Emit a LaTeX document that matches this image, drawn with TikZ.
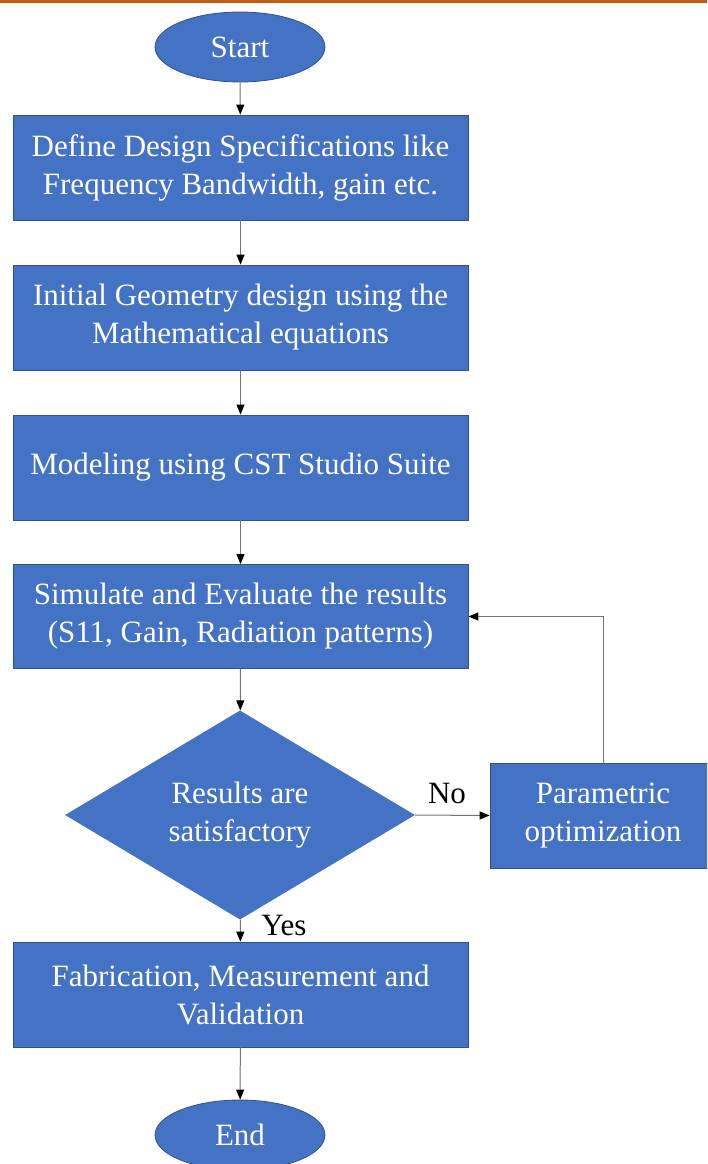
\documentclass[tikz,border=0pt]{standalone}
\usepackage{fontspec}
\setmainfont{LiberationSerif}[Extension=.ttf, UprightFont=*-Regular, BoldFont=*-Bold, ItalicFont=*-Italic, BoldItalicFont=*-BoldItalic]
\usetikzlibrary{shapes.geometric,arrows.meta}
\definecolor{boxblue}{HTML}{4472C4}
\definecolor{boxedge}{HTML}{2F528F}
\definecolor{topline}{HTML}{C55A11}
\tikzset{
  every node/.style={font=\rmfamily\fontsize{31}{38}\selectfont},
  procbox/.style={rectangle, fill=boxblue, draw=boxedge, line width=0.8pt, text=white, align=center, inner sep=0pt},
  termnode/.style={ellipse, fill=boxblue, draw=boxedge, line width=0.8pt, text=white, minimum width=170pt, minimum height=70pt, inner sep=0pt},
  decnode/.style={diamond, fill=boxblue, draw=none, text=white, align=center, minimum width=350pt, minimum height=204pt, inner sep=0pt},
  flow/.style={draw=black!55, line width=1pt, -{Triangle[length=10pt,width=8pt,color=black]}},
  lbl/.style={text=black}
}
\begin{document}
\begin{tikzpicture}[x=1pt,y=-1pt]
\useasboundingbox (0,0) rectangle (707,1164);
\clip (0,0) rectangle (707,1164);
\fill[topline] (0,0) rectangle (707,3.5);
\node[termnode] (start) at (240,47) {Start};
\node[procbox, minimum width=455pt, minimum height=105pt] (spec) at (240.5,167.5) {Define Design Specifications like\\Frequency Bandwidth, gain etc.};
\node[procbox, minimum width=455pt, minimum height=105pt] (geom) at (240.5,317.5) {Initial Geometry design using the\\Mathematical equations};
\node[procbox, minimum width=455pt, minimum height=105pt] (model) at (240.5,467.5) {Modeling using CST Studio Suite};
\node[procbox, minimum width=455pt, minimum height=104pt] (sim) at (240.5,616.5) {Simulate and Evaluate the results\\(S11, Gain, Radiation patterns)};
\node[decnode] (dec) at (240,815) {Results are\\satisfactory};
\node[procbox, minimum width=226pt, minimum height=105pt] (param) at (603,815.5) {Parametric\\optimization};
\node[procbox, minimum width=455pt, minimum height=105pt] (fab) at (240.5,994.5) {Fabrication, Measurement and\\Validation};
\node[termnode] (end) at (240,1135) {End};
\draw[flow] (start) -- (spec);
\draw[flow] (spec) -- (geom);
\draw[flow] (geom) -- (model);
\draw[flow] (model) -- (sim);
\draw[flow] (sim) -- (dec);
\draw[flow] (dec) -- (fab);
\draw[flow] (fab) -- (end);
\draw[flow] (dec.east) -- (param.west);
\draw[flow] (param.north) |- (sim.east);
\node[lbl] (no) at (447,793) {No};
\node[lbl] (yes) at (284,925) {Yes};
\end{tikzpicture}
\end{document}
